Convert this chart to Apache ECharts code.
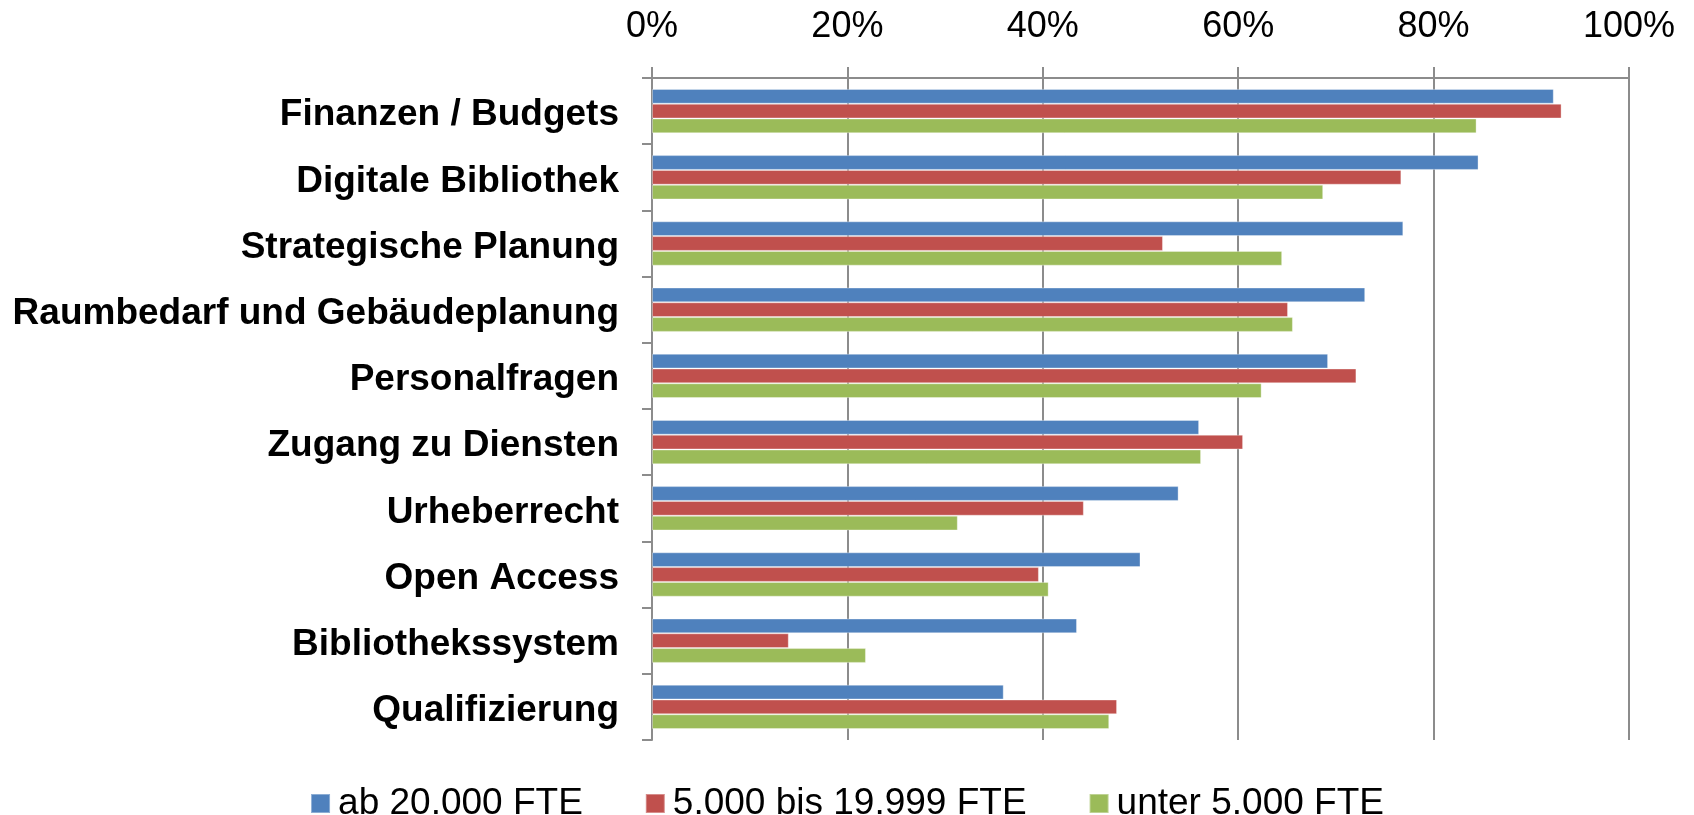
<!DOCTYPE html>
<html>
<head>
<meta charset="utf-8">
<title>Themen nach Bibliotheksgröße</title>
<script src="https://cdn.jsdelivr.net/npm/echarts@6/dist/echarts.min.js"></script>
<style>
  html, body { margin: 0; padding: 0; background: #fff; }
  #chart { width: 1694px; height: 815px; }
</style>
</head>
<body>
<div id="chart"></div>
<script>
// Kategorien (von oben nach unten)
const categories = [
  "Finanzen / Budgets",
  "Digitale Bibliothek",
  "Strategische Planung",
  "Raumbedarf und Gebäudeplanung",
  "Personalfragen",
  "Zugang zu Diensten",
  "Urheberrecht",
  "Open Access",
  "Bibliothekssystem",
  "Qualifizierung",
];

const seriesNames = ["ab 20.000 FTE", "5.000 bis 19.999 FTE", "unter 5.000 FTE"];

// Anteile in Prozent
const ab20000 = [92.3, 84.6, 76.9, 73.0, 69.2, 56.0, 53.9, 50.0, 43.5, 36.0];
const bis19999 = [93.1, 76.7, 52.3, 65.1, 72.1, 60.5, 44.2, 39.6, 14.0, 47.6];
const unter5000 = [84.4, 68.7, 64.5, 65.6, 62.4, 56.2, 31.3, 40.6, 21.9, 46.8];

const tickLabels = ["0%", "20%", "40%", "60%", "80%", "100%"];

const colors = ["#4F81BD", "#C0504D", "#9BBB59"];
const font = "'Liberation Sans', Arial, sans-serif";
const gray = "#8c8c8c";

const chart = echarts.init(document.getElementById("chart"));

const makeSeries = (name, data, color) => ({
  name,
  type: "bar",
  data,
  barGap: "0%",
  barCategoryGap: "33%",
  itemStyle: {
    color,
    borderColor: "rgba(255,255,255,0.35)",
    borderWidth: 1,
  },
});

chart.setOption({
  animation: false,
  textStyle: { fontFamily: font },
  grid: {
    left: 652,
    right: 65,
    top: 78,
    bottom: 75,
    containLabel: false,
  },
  legend: {
    data: seriesNames,
    left: "center",
    top: 780,
    icon: "rect",
    itemWidth: 19,
    itemHeight: 19,
    itemGap: 62,
    textStyle: { fontSize: 37, color: "#000", fontFamily: font, padding: [0, 0, 0, 3] },
  },
  xAxis: {
    type: "value",
    position: "top",
    min: 0,
    max: 100,
    interval: 20,
    axisLine: { show: true, lineStyle: { color: gray, width: 2 } },
    axisTick: { show: true, length: 11, inside: false, lineStyle: { color: gray, width: 2 } },
    splitLine: { show: true, lineStyle: { color: gray, width: 2 } },
    axisLabel: {
      margin: 33,
      fontSize: 36,
      color: "#000",
      fontFamily: font,
      formatter: (v) => tickLabels[Math.round(v / 20)],
    },
  },
  yAxis: {
    type: "category",
    inverse: true,
    data: categories,
    axisLine: { show: true, lineStyle: { color: gray, width: 2 } },
    axisTick: { show: true, length: 10, lineStyle: { color: gray, width: 2 } },
    axisLabel: {
      margin: 33,
      color: "#000",
      formatter: (v) => "{c|" + v + "}",
      rich: {
        c: {
          fontSize: 37,
          fontWeight: "bold",
          color: "#000",
          fontFamily: font,
          padding: [8, 0, 0, 0],
        },
      },
    },
  },
  series: [
    makeSeries(seriesNames[0], ab20000, colors[0]),
    makeSeries(seriesNames[1], bis19999, colors[1]),
    makeSeries(seriesNames[2], unter5000, colors[2]),
  ],
});

window.addEventListener("resize", () => {
  chart.resize();
});
</script>
</body>
</html>
